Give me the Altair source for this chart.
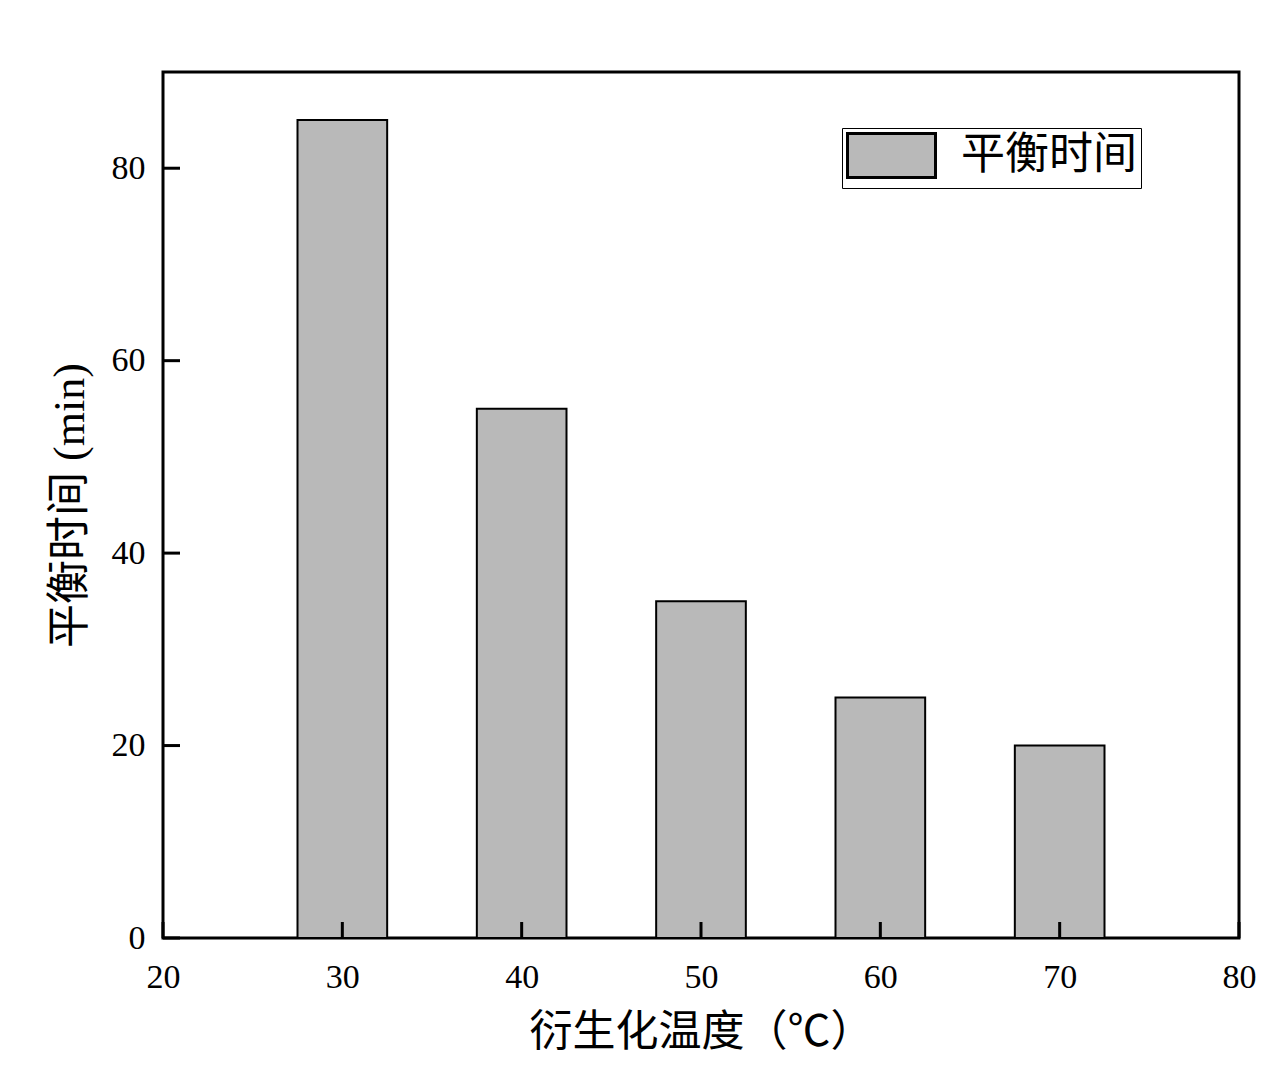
import altair as alt
import pandas as pd

temps = [30, 40, 50, 60, 70]
times = [85, 55, 35, 25, 20]
series_name = "平衡时间"
x_ticks = [20, 30, 40, 50, 60, 70, 80]
y_ticks = [0, 20, 40, 60, 80]

half_w = 2.5
bars_df = pd.DataFrame({
    "t0": [t - half_w for t in temps],
    "t1": [t + half_w for t in temps],
    "time": times,
    "series": [series_name] * len(temps),
})
xt_df = pd.DataFrame({"xt": x_ticks})
yt_df = pd.DataFrame({"yt": y_ticks})

serif = "Liberation Serif, Noto Sans CJK SC"
cjk = "Liberation Serif, Noto Sans CJK SC"

xscale = alt.Scale(domain=[20, 80], nice=False, zero=False)
yscale = alt.Scale(domain=[0, 90], nice=False)

W, H = 1076, 866

bars = alt.Chart(bars_df).mark_bar(stroke="black", strokeWidth=2, opacity=1).encode(
    x=alt.X("t0:Q", scale=xscale,
            axis=alt.Axis(values=x_ticks, title="衍生化温度（℃）", domain=False, ticks=False,
                          grid=False, labelPadding=22, labelFontSize=34, labelFont=serif,
                          labelFlush=False, labelColor="black", titleFont=cjk, titleFontSize=43,
                          titleFontWeight="normal", titleColor="black", titlePadding=17)),
    x2="t1:Q",
    y=alt.Y("time:Q", scale=yscale,
            axis=alt.Axis(values=y_ticks, title="平衡时间 (min)", domain=False, ticks=False,
                          grid=False, labelPadding=18, labelFontSize=34, labelFont=serif,
                          labelFlush=False, labelColor="black", titleFont=cjk, titleFontSize=44,
                          titleFontWeight="normal", titleColor="black", titlePadding=19)),
    y2=alt.datum(0),
    color=alt.Color("series:N", scale=alt.Scale(range=["#b9b9b9"]),
                    legend=alt.Legend(title=None, orient="none", legendX=679, legendY=56,
                                      padding=4, strokeColor="black", fillColor="white",
                                      symbolType="M-1,-1H3V1H-1Z", symbolSize=1936,
                                      symbolStrokeColor="black", symbolStrokeWidth=3,
                                      symbolOpacity=1, labelFontSize=44, labelFont=cjk,
                                      labelLimit=400,
                                      labelColor="black", labelOffset=68)),
)

xticks = alt.Chart(xt_df).mark_rule(color="black", strokeWidth=3).encode(
    x=alt.X("xt:Q", scale=xscale),
    y=alt.value(H),
    y2=alt.value(H - 16),
)
yticks = alt.Chart(yt_df).mark_rule(color="black", strokeWidth=3).encode(
    y=alt.Y("yt:Q", scale=yscale),
    x=alt.value(0),
    x2=alt.value(17),
)

chart = alt.layer(bars, xticks, yticks).properties(
    width=W, height=H,
    autosize=alt.AutoSizeParams(type="none"),
    padding={"left": 155, "top": 64, "right": 22, "bottom": 118},
    background="white",
).configure_view(stroke="black", strokeWidth=3)

chart.save("out.html", embed_options={"renderer": "svg", "actions": False})
